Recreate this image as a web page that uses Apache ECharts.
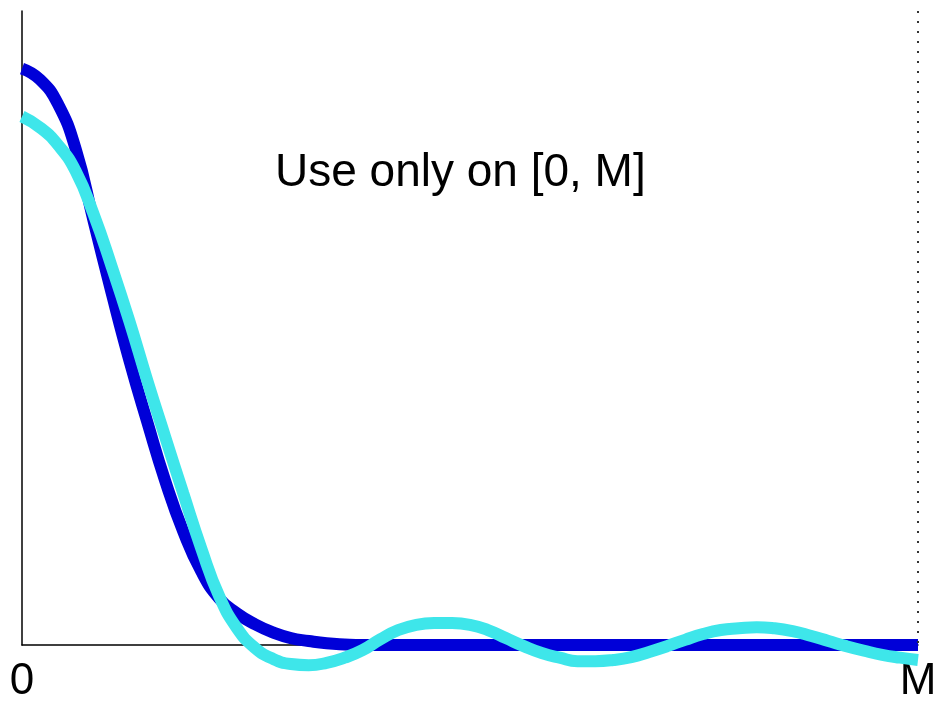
<!DOCTYPE html>
<html>
<head>
<meta charset="utf-8">
<script src="https://cdn.jsdelivr.net/npm/echarts@6/dist/echarts.min.js"></script>
<style>html,body{margin:0;padding:0;background:#fff}#c{width:940px;height:704px}</style>
</head>
<body>
<div id="c"></div>
<script>
// sample positions along [0, M] (M = 1)
var xs = [0,0.02,0.04,0.06,0.08,0.10,0.12,0.14,0.16,0.18,0.20,0.22,0.24,0.26,0.28,0.30,0.32,0.34,0.36,0.38,
          0.40,0.42,0.44,0.46,0.48,0.50,0.52,0.54,0.56,0.58,0.60,0.62,0.64,0.66,0.68,0.70,0.72,0.74,0.76,0.78,
          0.80,0.82,0.84,0.86,0.88,0.90,0.92,0.94,0.96,0.98,1.00];
var blueVals = [1.000,0.981,0.939,0.860,0.735,0.611,0.493,0.386,0.284,0.197,0.128,0.081,0.055,0.036,0.022,0.012,0.007,0.003,0.001,0,
                0,0,0,0,0,0,0,0,0,0,0,0,0,0,0,0,0,0,0,0,
                0,0,0,0,0,0,0,0,0,0,0];
var cyanVals = [0.917,0.898,0.868,0.822,0.747,0.657,0.561,0.458,0.360,0.263,0.168,0.085,0.029,-0.005,-0.024,-0.033,-0.035,-0.031,-0.022,-0.009,
                0.010,0.026,0.035,0.038,0.038,0.035,0.026,0.012,-0.002,-0.014,-0.022,-0.028,-0.028,-0.026,-0.021,-0.012,-0.002,0.009,0.019,0.026,
                0.029,0.031,0.029,0.024,0.016,0.007,-0.002,-0.010,-0.017,-0.022,-0.026];
var tickLabels = {0: '0', 1: 'M'};
var note = 'Use only on [0, M]';

function pairs(x, y){ return x.map(function(v,i){ return [v, y[i]]; }); }

var chart = echarts.init(document.getElementById('c'), null, {renderer:'canvas'});
chart.setOption({
  animation: false,
  backgroundColor: '#ffffff',
  title: {
    text: note, left: 270, top: 145,
    textStyle: {fontFamily: 'Liberation Sans', fontSize: 46, fontWeight: 'normal', color: '#000'}
  },
  grid: {left: 22, right: 22, top: 11, bottom: 57},
  xAxis: {
    type: 'value', min: 0, max: 1, interval: 1,
    axisLine: {show: true, onZero: false, lineStyle: {color: '#000', width: 1.5}},
    axisTick: {show: false}, splitLine: {show: false},
    axisLabel: {margin: 15, fontSize: 44, fontFamily: 'Liberation Sans', color: '#000',
      formatter: function(v){ return tickLabels[v] !== undefined ? tickLabels[v] : ''; }}
  },
  yAxis: {
    type: 'value', min: 0, max: 1.1,
    axisLine: {show: true, lineStyle: {color: '#000', width: 1.5}},
    axisTick: {show: false}, axisLabel: {show: false}, splitLine: {show: false}
  },
  series: [
    {
      type: 'line', data: pairs(xs, blueVals), smooth: 0.5, showSymbol: false, clip: false,
      lineStyle: {color: '#0000d8', width: 12},
      markLine: {
        silent: true, symbol: 'none', label: {show: false},
        lineStyle: {color: '#333', type: [2, 8], width: 2},
        data: [[{coord: [1, 1.1]}, {coord: [1, 0]}]]
      }
    },
    {
      type: 'line', data: pairs(xs, cyanVals), smooth: 0.5, showSymbol: false, clip: false,
      lineStyle: {color: '#3ee6ea', width: 12}
    }
  ]
});
</script>
</body>
</html>
